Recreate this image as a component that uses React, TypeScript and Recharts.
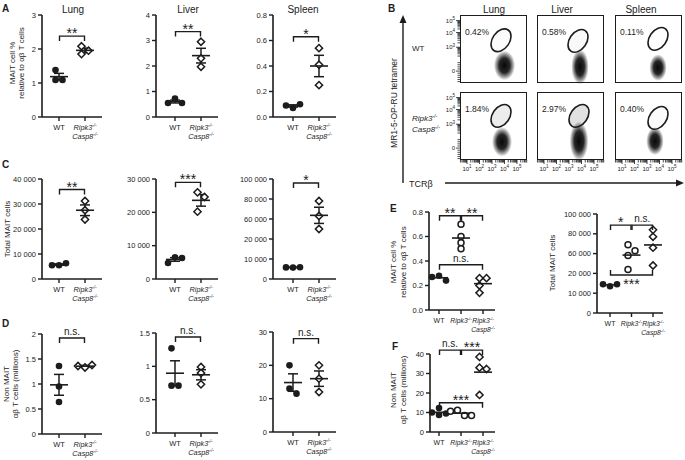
import React from 'react';
import { ScatterChart, Scatter, XAxis, YAxis, ErrorBar, ReferenceDot } from 'recharts';

const FONT = '"Liberation Sans", Arial, Helvetica, sans-serif';
const INK = '#1c1c1c';

// ---------- categories ----------
const pairCats = ['WT', 'Ripk3 Casp8'];
const trioCats = ['WT', 'Ripk3', 'Ripk3 Casp8'];

// ---------- A: MAIT cell % of αβ T cells ----------
const lungPctWT = [1.09, 1.38, 1.09];
const lungPctKO = [1.85, 2.08, 1.95];
const liverPctWT = [0.72, 0.55, 0.55];
const liverPctKO = [2.95, 2.3, 1.97];
const spleenPctWT = [0.07, 0.1, 0.09];
const spleenPctKO = [0.54, 0.41, 0.25];

// ---------- C: total MAIT cells ----------
const lungTotWT = [5500, 6300, 5500];
const lungTotKO = [31200, 27500, 23800];
const liverTotWT = [6500, 6300, 4800];
const liverTotKO = [26000, 24600, 20200];
const spleenTotWT = [5700, 5900, 5800];
const spleenTotKO = [78000, 63000, 50000];

// ---------- D: non MAIT αβ T cells (millions) ----------
const lungNonWT = [1.36, 0.95, 0.64];
const lungNonKO = [1.33, 1.38, 1.36];
const liverNonWT = [1.27, 0.71, 0.71];
const liverNonKO = [0.99, 0.9, 0.73];
const spleenNonWT = [20, 13, 11.5];
const spleenNonKO = [20, 16, 12];

// ---------- E / F ----------
const ePctWT = [0.28, 0.24, 0.27];
const ePctRipk3 = [0.7, 0.6, 0.55, 0.5];
const ePctDKO = [0.26, 0.26, 0.2, 0.14];
const eTotWT = [13500, 14500, 14500];
const eTotRipk3 = [69000, 63000, 58000, 44000];
const eTotDKO = [84000, 77000, 66000, 48000];
const fNonWT = [8.7, 9.5, 10, 12.3];
const fNonRipk3 = [11.2, 8.4, 10.6, 8.4];
const fNonDKO = [38.5, 33, 32.3, 19];

// ---------- tick values ----------
const lungPctTicks = [0, 1, 2, 3];
const liverPctTicks = [0, 1, 2, 3, 4];
const spleenPctTicks = [0, 0.2, 0.4, 0.6, 0.8];
const lungTotTicks = [0, 10000, 20000, 30000, 40000];
const liverTotTicks = [0, 10000, 20000, 30000];
const splitTotTicks = [0, 10000, 20000, 60000, 80000, 100000];
const lungNonTicks = [0, 0.5, 1, 1.5, 2];
const liverNonTicks = [0, 0.5, 1, 1.5];
const spleenNonTicks = [0, 10, 20, 30];
const ePctTicks = [0, 0.2, 0.4, 0.6, 0.8];
const fNonTicks = [0, 10, 20, 30, 40];

// ---------- B: flow plots ----------
const flowTissues = ['Lung', 'Liver', 'Spleen'];
const flowMaitPct = [[0.42, 0.58, 0.11], [1.84, 2.97, 0.4]];
// bulk tetramer- cloud: centre (log10 TCRβ, tetramer axis units) and spread
const bulkTcr = [[4.0, 3.88, 3.88], [3.8, 3.8, 3.64]];
const bulkTet = [[0.4, 0.3, 0.25], [0.45, 0.5, 0.5]];
const bulkSpreadTcr = [[0.85, 0.7, 0.7], [0.8, 0.75, 0.7]];
const bulkSpreadTet = [[1.05, 1.25, 0.95], [1.05, 1.4, 1.0]];
const gateTcr = [[3.72, 3.72, 3.88], [3.72, 3.8, 3.88]];
const gateTet = [[2.2, 2.15, 2.3], [2.3, 2.3, 2.15]];
const tetMajor = [0, 1.7, 2.75, 3.6];
const tetMajorExp = ['', '3', '4', '5'];

// two-segment axis used for the spleen / combined total counts
const toSplit = (v: number) => (v <= 20000 ? v / 10000 : 2 + (v - 40000) / 20000);

const plain = (v: number) => String(v);
const oneDec = (v: number) => v.toFixed(1);
const spaced = (v: number) => String(v).replace(/\B(?=(\d{3})+(?!\d))/g, '\u00a0');

type Marker = 'dot' | 'ring' | 'diamond';
type Bracket = { from: number; to: number; at: number; text: string; under?: boolean };
type Spec = {
  left: number; top: number; w: number; h: number;
  xDomain: number[]; yDomain: number[];
  ticks: number[]; fmt: (v: number) => string;
  groups: { values: number[]; marker: Marker }[];
  cats: string[]; brackets: Bracket[]; sem: boolean;
  toAxis?: (v: number) => number;
};

const COLS = [
  { left: 42, w: 60, xDomain: [-0.654, 1.654] },
  { left: 156, w: 62, xDomain: [-0.731, 1.654] },
  { left: 273, w: 63, xDomain: [-0.769, 1.654] },
];
const pair = (wt: number[], ko: number[]) => [
  { values: wt, marker: 'dot' as Marker },
  { values: ko, marker: 'diamond' as Marker },
];
const trio = (wt: number[], r3: number[], dko: number[]) => [
  { values: wt, marker: 'dot' as Marker },
  { values: r3, marker: 'ring' as Marker },
  { values: dko, marker: 'diamond' as Marker },
];

const specs: Spec[] = [
  { ...COLS[0], top: 15, h: 102, yDomain: [0, 3], ticks: lungPctTicks, fmt: plain, groups: pair(lungPctWT, lungPctKO), cats: pairCats, brackets: [{ from: 0, to: 1, at: 2.38, text: '**' }], sem: true },
  { ...COLS[1], top: 15, h: 102, yDomain: [0, 4], ticks: liverPctTicks, fmt: plain, groups: pair(liverPctWT, liverPctKO), cats: pairCats, brackets: [{ from: 0, to: 1, at: 3.35, text: '**' }], sem: true },
  { ...COLS[2], top: 15, h: 102, yDomain: [0, 0.8], ticks: spleenPctTicks, fmt: oneDec, groups: pair(spleenPctWT, spleenPctKO), cats: pairCats, brackets: [{ from: 0, to: 1, at: 0.63, text: '*' }], sem: true },
  { ...COLS[0], top: 179, h: 100, yDomain: [0, 40000], ticks: lungTotTicks, fmt: spaced, groups: pair(lungTotWT, lungTotKO), cats: pairCats, brackets: [{ from: 0, to: 1, at: 35800, text: '**' }], sem: true },
  { ...COLS[1], top: 179, h: 100, yDomain: [0, 30000], ticks: liverTotTicks, fmt: spaced, groups: pair(liverTotWT, liverTotKO), cats: pairCats, brackets: [{ from: 0, to: 1, at: 29000, text: '***' }], sem: true },
  { ...COLS[2], top: 179, h: 100, yDomain: [0, 5], ticks: splitTotTicks, fmt: spaced, groups: pair(spleenTotWT, spleenTotKO), cats: pairCats, brackets: [{ from: 0, to: 1, at: 96000, text: '*' }], sem: true, toAxis: toSplit },
  { ...COLS[0], top: 334, h: 100, yDomain: [0, 2], ticks: lungNonTicks, fmt: plain, groups: pair(lungNonWT, lungNonKO), cats: pairCats, brackets: [{ from: 0, to: 1, at: 1.92, text: 'n.s.' }], sem: true },
  { ...COLS[1], top: 333, h: 100, yDomain: [0, 1.5], ticks: liverNonTicks, fmt: plain, groups: pair(liverNonWT, liverNonKO), cats: pairCats, brackets: [{ from: 0, to: 1, at: 1.44, text: 'n.s.' }], sem: true },
  { ...COLS[2], top: 332, h: 100, yDomain: [0, 30], ticks: spleenNonTicks, fmt: plain, groups: pair(spleenNonWT, spleenNonKO), cats: pairCats, brackets: [{ from: 0, to: 1, at: 28, text: 'n.s.' }], sem: true },
  {
    left: 429, w: 66, top: 212, h: 98, xDomain: [-0.455, 2.545], yDomain: [0, 0.8], ticks: ePctTicks, fmt: oneDec,
    groups: trio(ePctWT, ePctRipk3, ePctDKO), cats: trioCats, sem: false,
    brackets: [{ from: 0, to: 1, at: 0.77, text: '**' }, { from: 1, to: 2, at: 0.77, text: '**' }, { from: 0, to: 2, at: 0.37, text: 'n.s.' }],
  },
  {
    left: 597, w: 66, top: 214, h: 99, xDomain: [-0.605, 2.465], yDomain: [0, 5], ticks: splitTotTicks, fmt: spaced,
    groups: trio(eTotWT, eTotRipk3, eTotDKO), cats: trioCats, sem: false, toAxis: toSplit,
    brackets: [{ from: 0, to: 1, at: 88800, text: '*' }, { from: 1, to: 2, at: 88800, text: 'n.s.' }, { from: 0, to: 2, at: 19200, text: '***', under: true }],
  },
  {
    left: 430, w: 65, top: 354, h: 78, xDomain: [-0.41, 2.545], yDomain: [0, 40], ticks: fNonTicks, fmt: plain,
    groups: trio(fNonWT, fNonRipk3, fNonDKO), cats: trioCats, sem: false,
    brackets: [{ from: 0, to: 1, at: 42, text: 'n.s.' }, { from: 1, to: 2, at: 42, text: '***' }, { from: 0, to: 2, at: 15, text: '***' }],
  },
];

// spread overlapping points sideways, like a column scatter
function swarm(ys: number[], pxPerUnit: number): number[] {
  const d = 7;
  const placed: { dx: number; py: number }[] = [];
  const steps = [0, 1, -1, 2, -2, 3, -3];
  const out = ys.map((v) => {
    const py = v * pxPerUnit;
    let dx = 0;
    for (const st of steps) {
      const c = st * d;
      if (placed.every((p) => Math.hypot(p.dx - c, p.py - py) >= d * 0.85)) { dx = c; break; }
    }
    placed.push({ dx, py });
    return dx;
  });
  const shift = (Math.min(...out) + Math.max(...out)) / 2;
  return out.map((o) => o - shift);
}

const GeneText = ({ x, y, name, size, anchor = 'middle' }: any) => (
  <text x={x} y={y} fontSize={size} fontStyle="italic" textAnchor={anchor} fontFamily={FONT} fill={INK}>
    {name}
    <tspan fontSize={size * 0.62} dy={-size * 0.4}>-/-</tspan>
  </text>
);

const CatTick = (p: any) => {
  const { x, y, payload, cats } = p;
  const lines: string[] = cats[payload.value].split(' ');
  const size = cats.length > 2 ? 6.8 : 7.3;
  return (
    <g>
      {lines.map((ln, i) =>
        ln === 'WT' ? (
          <text key={i} x={x} y={y + 7} fontSize={size + 0.2} textAnchor="middle" fontFamily={FONT} fill={INK}>WT</text>
        ) : (
          <GeneText key={i} x={x} y={y + 7 + i * 9} name={ln} size={size} />
        )
      )}
    </g>
  );
};

const MarkerShape = (p: any) => {
  const { cx, cy, payload } = p;
  const x = cx + payload.dx;
  if (payload.marker === 'dot') return <circle cx={x} cy={cy} r={3.3} fill={INK} />;
  if (payload.marker === 'ring') return <circle cx={x} cy={cy} r={3} fill="#fff" stroke={INK} strokeWidth={1.5} />;
  const r = 3.6;
  return <path d={`M${x},${cy - r}L${x + r},${cy}L${x},${cy + r}L${x - r},${cy}Z`} fill="#fff" stroke={INK} strokeWidth={1.5} />;
};

const MeanShape = (p: any) => (
  <line x1={p.cx - 9} x2={p.cx + 9} y1={p.cy} y2={p.cy} stroke={INK} strokeWidth={1.6} />
);

function BracketMark({ cx, cy, half, text, under }: any) {
  const arm = under ? -5 : 5;
  const stars = text.includes('*');
  const fs = stars ? 14 : 10;
  const ty = under ? cy + 14 : cy + (stars ? 2 : -3);
  return (
    <g>
      <path d={`M${cx - half},${cy + arm}V${cy}H${cx + half}V${cy + arm}`} fill="none" stroke={INK} strokeWidth={1.4} />
      <text x={cx} y={ty} textAnchor="middle" fontSize={fs} fontFamily={FONT} fill={INK}>{text}</text>
    </g>
  );
}

const ML = 40, MR = 10, MT = 22, MB = 30;

function DotPlot({ s }: { s: Spec }) {
  const T = s.toAxis || ((v: number) => v);
  const pxY = s.h / (s.yDomain[1] - s.yDomain[0]);
  const pxX = s.w / (s.xDomain[1] - s.xDomain[0]);
  const axisTicks = s.ticks.map(T);
  const points = s.groups.flatMap((g, gi) => {
    const ys = g.values.map(T);
    const dx = swarm(ys, pxY);
    return ys.map((y, i) => ({ x: gi, y, dx: dx[i], marker: g.marker }));
  });
  const summary = s.groups.map((g, gi) => {
    const n = g.values.length;
    const m = g.values.reduce((a, b) => a + b, 0) / n;
    const sd = Math.sqrt(g.values.reduce((a, b) => a + (b - m) ** 2, 0) / (n - 1));
    const se = sd / Math.sqrt(n);
    return { x: gi, y: T(m), err: [T(m) - T(m - se), T(m + se) - T(m)] };
  });
  return (
    <div style={{ position: 'absolute', left: s.left - ML, top: s.top - MT }}>
      <ScatterChart width={s.w + ML + MR} height={s.h + MT + MB} margin={{ top: MT, right: MR, bottom: 0, left: 0 }}>
        <XAxis
          type="number" dataKey="x" domain={s.xDomain} ticks={s.cats.map((_, i) => i)} interval={0} height={MB}
          axisLine={{ stroke: INK, strokeWidth: 1.6 }} tickLine={{ stroke: INK, strokeWidth: 1.4 }} tickSize={4} tickMargin={2}
          tick={<CatTick cats={s.cats} />}
        />
        <YAxis
          type="number" dataKey="y" domain={s.yDomain} ticks={axisTicks} interval={0} width={ML}
          axisLine={{ stroke: INK, strokeWidth: 1.6 }} tickLine={{ stroke: INK, strokeWidth: 1.4 }} tickSize={4} tickMargin={2}
          tickFormatter={(v: number) => {
            const i = axisTicks.findIndex((t) => Math.abs(t - v) < 1e-9);
            return s.fmt(s.ticks[i < 0 ? 0 : i]);
          }}
          tick={{ fontSize: 7.5, fill: INK, fontFamily: FONT }}
        />
        <Scatter data={points} shape={(p: any) => <MarkerShape {...p} />} isAnimationActive={false} />
        <Scatter data={summary} shape={(p: any) => <MeanShape {...p} />} isAnimationActive={false}>
          {s.sem && <ErrorBar dataKey="err" direction="y" width={5} stroke={INK} strokeWidth={1.5} isAnimationActive={false} />}
        </Scatter>
        {s.brackets.map((b, i) => (
          <ReferenceDot
            key={i} x={(b.from + b.to) / 2} y={T(b.at)} r={0} ifOverflow="visible"
            shape={(p: any) => <BracketMark cx={p.cx} cy={p.cy} half={((b.to - b.from) * pxX) / 2 - 0.5} text={b.text} under={b.under} />}
          />
        ))}
      </ScatterChart>
    </div>
  );
}

// ---------- flow boxes ----------
const FLOW_X = [460, 537, 615];
const FLOW_Y = [15, 92];
const FW = 67, FH = 68, YW = 24, XH = 16;
const TCR_DOMAIN = [0.44, 5.8];
const TET_DOMAIN = [-0.85, 4.0];
const PX_DEC = FW / (TCR_DOMAIN[1] - TCR_DOMAIN[0]);
const PX_TET = FH / (TET_DOMAIN[1] - TET_DOMAIN[0]);

const tcrTicks: number[] = [];
for (let d = 0; d <= 5; d++) {
  for (let k = 1; k <= 9; k++) {
    const t = d + Math.log10(k);
    if (t >= TCR_DOMAIN[0] && t <= TCR_DOMAIN[1]) tcrTicks.push(t);
  }
}
const tetTicks: number[] = [...tetMajor, -0.75, -0.6, -0.45, -0.3, -0.15, 0.15, 0.3, 0.45, 0.6];
for (let k = 2; k <= 9; k++) {
  tetTicks.push(1.7 - (1 - Math.log10(k)) * 0.9, 1.7 + Math.log10(k) * 1.05, 2.75 + Math.log10(k) * 0.85);
}
tetTicks.sort((a, b) => a - b);

const FlowXTick = (p: any) => {
  const { x, y, payload } = p;
  const v = payload.value;
  const major = Math.abs(v - Math.round(v)) < 1e-6;
  return (
    <g>
      <line x1={x} x2={x} y1={y} y2={y + (major ? 4 : 2.5)} stroke={INK} strokeWidth={0.8} />
      {major && (
        <text x={x} y={y + 11} textAnchor="middle" fontSize={6} fontFamily={FONT} fill={INK}>
          10<tspan fontSize={4.5} dy={-2.6}>{Math.round(v)}</tspan>
        </text>
      )}
    </g>
  );
};

const FlowYTick = (p: any) => {
  const { x, y, payload } = p;
  const idx = tetMajor.findIndex((t) => Math.abs(t - payload.value) < 1e-9);
  return (
    <g>
      <line x1={x - (idx >= 0 ? 4 : 2.5)} x2={x} y1={y} y2={y} stroke={INK} strokeWidth={0.8} />
      {idx >= 0 && (
        <text x={x - 5} y={y + 2.2} textAnchor="end" fontSize={6} fontFamily={FONT} fill={INK}>
          {idx === 0 ? '0' : '10'}
          {idx > 0 && <tspan fontSize={4.5} dy={-2.6}>{tetMajorExp[idx]}</tspan>}
        </text>
      )}
    </g>
  );
};

const BlobShape = (p: any) => {
  const { cx, cy, payload } = p;
  const id = `bulk${payload.id}`;
  return (
    <g>
      <defs>
        <radialGradient id={id}>
          <stop offset="0" stopColor="#000" stopOpacity={0.97} />
          <stop offset="0.5" stopColor="#000" stopOpacity={0.85} />
          <stop offset="0.8" stopColor="#000" stopOpacity={0.35} />
          <stop offset="1" stopColor="#000" stopOpacity={0} />
        </radialGradient>
      </defs>
      <ellipse cx={cx} cy={cy} rx={payload.sx * PX_DEC} ry={payload.sy * PX_TET} fill={`url(#${id})`} />
    </g>
  );
};

const GateShape = (p: any) => {
  const { cx, cy, payload } = p;
  return (
    <ellipse
      cx={cx} cy={cy} rx={8.5} ry={12.5} transform={`rotate(35 ${cx} ${cy})`}
      fill="#000" fillOpacity={Math.min(0.13, payload.pct * 0.04)} stroke={INK} strokeWidth={1.6}
    />
  );
};

function FlowBox({ r, c }: { r: number; c: number }) {
  const showY = c === 0;
  const showX = r === 1;
  const bulk = [{ x: bulkTcr[r][c], y: bulkTet[r][c], sx: bulkSpreadTcr[r][c], sy: bulkSpreadTet[r][c], id: `${r}${c}` }];
  const gate = [{ x: gateTcr[r][c], y: gateTet[r][c], pct: flowMaitPct[r][c] }];
  return (
    <div style={{ position: 'absolute', left: FLOW_X[c] - YW, top: FLOW_Y[r] }}>
      <ScatterChart
        width={YW + FW + 2} height={FH + XH + 1}
        margin={{ top: 0, right: 2, bottom: showX ? 1 : XH + 1, left: showY ? 0 : YW }}
      >
        <XAxis
          type="number" dataKey="x" domain={TCR_DOMAIN} hide={!showX} ticks={tcrTicks} interval={0} height={XH}
          axisLine={false} tickLine={false} tickSize={0} tickMargin={0} tick={<FlowXTick />}
        />
        <YAxis
          type="number" dataKey="y" domain={TET_DOMAIN} hide={!showY} ticks={tetTicks} interval={0} width={YW}
          axisLine={false} tickLine={false} tickSize={0} tickMargin={0} tick={<FlowYTick />}
        />
        <Scatter data={bulk} shape={(p: any) => <BlobShape {...p} />} isAnimationActive={false} />
        <Scatter data={gate} shape={(p: any) => <GateShape {...p} />} isAnimationActive={false} />
      </ScatterChart>
      <div
        style={{
          position: 'absolute', left: YW, top: 0, width: FW, height: FH,
          border: `1.6px solid ${INK}`, boxSizing: 'border-box', pointerEvents: 'none',
        }}
      />
    </div>
  );
}

const RotLabel = ({ x, y, text, size = 8 }: any) => (
  <text x={x} y={y} transform={`rotate(-90 ${x} ${y})`} textAnchor="middle" fontSize={size} fontFamily={FONT} fill={INK}>
    {text}
  </text>
);

function Overlay() {
  const letters: [string, number, number][] = [
    ['A', 2, 12], ['B', 388, 12], ['C', 2, 168], ['D', 2, 327], ['E', 390, 212], ['F', 392, 350],
  ];
  const aTitles: [string, number][] = [['Lung', 73], ['Liver', 188], ['Spleen', 303]];
  const bTitleX = [494, 562, 641];
  return (
    <svg width={685} height={460} style={{ position: 'absolute', left: 0, top: 0, pointerEvents: 'none' }}>
      {letters.map(([t, x, y]) => (
        <text key={t} x={x} y={y} fontSize={10} fontWeight="bold" fontFamily={FONT} fill={INK}>{t}</text>
      ))}
      {aTitles.map(([t, x]) => (
        <text key={t} x={x} y={13} fontSize={10} textAnchor="middle" fontFamily={FONT} fill={INK}>{t}</text>
      ))}
      {flowTissues.map((t, i) => (
        <text key={t} x={bTitleX[i]} y={13} fontSize={10} textAnchor="middle" fontFamily={FONT} fill={INK}>{t}</text>
      ))}
      {flowMaitPct.map((row, r) =>
        row.map((v, c) => (
          <text key={`${r}${c}`} x={FLOW_X[c] + 5} y={FLOW_Y[r] + 20} fontSize={8.5} fontFamily={FONT} fill={INK}>
            {v.toFixed(2)}%
          </text>
        ))
      )}

      <RotLabel x={14.5} y={63} text="MAIT cell %" />
      <RotLabel x={24} y={63} text="relative to αβ T cells" />
      <RotLabel x={10} y={229} text="Total MAIT cells" />
      <RotLabel x={8.5} y={384} text="Non MAIT" />
      <RotLabel x={18} y={384} text="αβ T cells (millions)" />
      <RotLabel x={396} y={262} text="MAIT cell %" />
      <RotLabel x={406} y={262} text="relative to αβ T cells" />
      <RotLabel x={555} y={263} text="Total MAIT cells" />
      <RotLabel x={396} y={390} text="Non MAIT" />
      <RotLabel x={406} y={390} text="αβ T cells (millions)" />
      <RotLabel x={397} y={103} text="MR1-5-OP-RU tetramer" size={8.5} />

      <text x={412} y={51} fontSize={8} fontFamily={FONT} fill={INK}>WT</text>
      <GeneText x={412} y={121} name="Ripk3" size={8} anchor="start" />
      <GeneText x={412} y={132} name="Casp8" size={8} anchor="start" />
      <text x={409} y={187} fontSize={9} fontFamily={FONT} fill={INK}>TCRβ</text>

      <line x1={403} y1={183} x2={403} y2={21} stroke={INK} strokeWidth={1.4} />
      <path d="M403,15L399.5,23L406.5,23Z" fill={INK} />
      <line x1={445} y1={183} x2={677} y2={183} stroke={INK} strokeWidth={1.4} />
      <path d="M684,183L676,179.5L676,186.5Z" fill={INK} />
    </svg>
  );
}

export default function App() {
  return (
    <div style={{ position: 'absolute', left: 0, top: 0, width: 685, height: 460, background: '#fff', overflow: 'hidden' }}>
      {specs.map((s, i) => (
        <DotPlot key={i} s={s} />
      ))}
      {[0, 1].map((r) => [0, 1, 2].map((c) => <FlowBox key={`${r}${c}`} r={r} c={c} />))}
      <Overlay />
    </div>
  );
}
